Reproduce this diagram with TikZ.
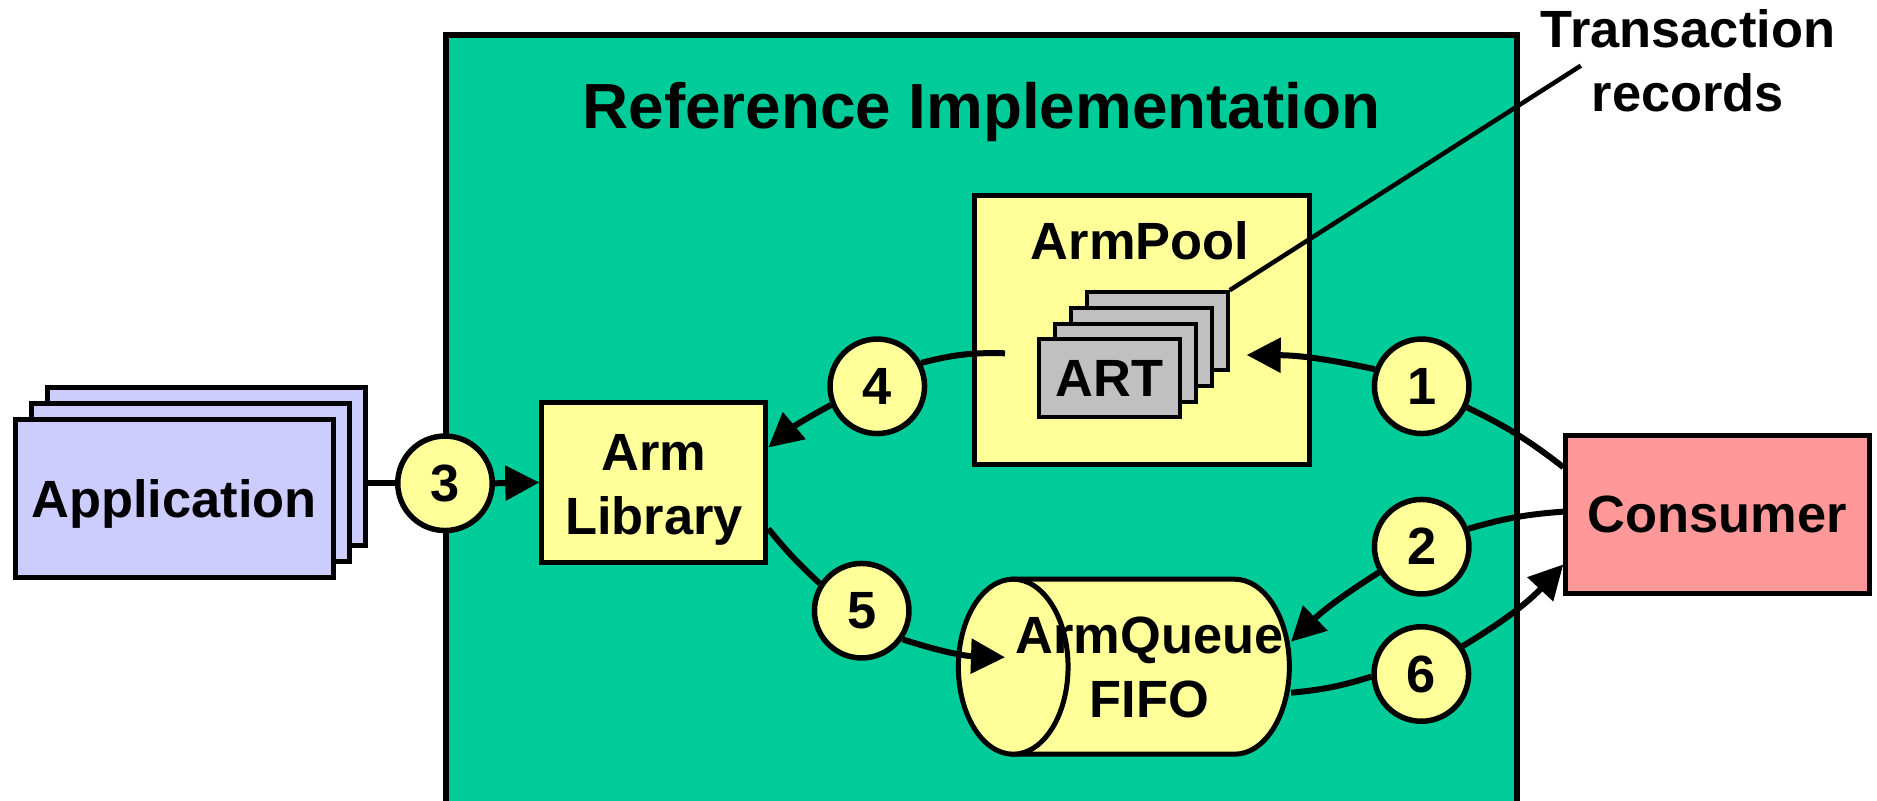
\documentclass[tikz,border=0pt]{standalone}
\usepackage{fontspec}
\setmainfont{Liberation Sans}
\usetikzlibrary{arrows.meta}
\definecolor{implgreen}{HTML}{00CC99}
\definecolor{paleyellow}{HTML}{FFFF99}
\definecolor{applav}{HTML}{CCCCFF}
\definecolor{conspink}{HTML}{FF9999}
\definecolor{artgray}{HTML}{C0C0C0}
\begin{document}
\begin{tikzpicture}[x=0.5pt,y=0.5pt,
  txt/.style={font=\fontsize{26.2pt}{32pt}\selectfont\bfseries, inner sep=0pt, align=center},
  boxed/.style={draw, line width=2.5pt, inner sep=0pt},
  appbox/.style={boxed, fill=applav, minimum width=159.1pt, minimum height=79.15pt},
  artbox/.style={draw, line width=2pt, inner sep=0pt, fill=artgray, minimum width=70.5pt, minimum height=39pt},
  num/.style={circle, draw, line width=2.75pt, fill=paleyellow, minimum size=47.25pt, txt},
  link/.style={line width=3pt},
  flow/.style={link, -{Triangle[length=17pt,width=17pt]}},
]
\useasboundingbox (0,0) rectangle (1877,-801);
\clip (0,0) rectangle (1877,-801);

% container
\node[draw, line width=3pt, fill=implgreen, inner sep=0pt,
      minimum width=535.5pt, minimum height=432.65pt] (impl) at (981.2,-467.35) {};
\node[txt, font=\fontsize{31.9pt}{38pt}\selectfont\bfseries, anchor=base] (title)
      at (981.5,-128.3) {Reference Implementation};

% pool with its transaction records
\node[boxed, fill=paleyellow, minimum width=167.5pt, minimum height=134.2pt] (pool) at (1141.7,-330) {};
\node[txt, anchor=base] (pooltitle) at (1140,-260) {ArmPool};
\node[artbox] (art4) at (1157.2,-331.2) {};
\node[artbox] (art3) at (1141.2,-346.9) {};
\node[artbox] (art2) at (1125.2,-362.6) {};
\node[artbox, txt, text depth=0pt] (art1) at (1109.2,-378.3) {ART};
\coordinate (poolin) at (1246.7,-355);
\coordinate (poolout) at (1005,-353.3);

% library
\node[boxed, fill=paleyellow, minimum width=112pt, minimum height=80pt] (lib) at (653.8,-482.5) {};
\node[txt] (liblabel) at (654,-489.6) {Arm\\Library};

% queue (cylinder)
\coordinate (qc) at (1013.2,-666.7);
\filldraw[fill=paleyellow, line width=2.5pt] (1013.2,-579.2) -- (1234.5,-579.2)
   arc[start angle=90, end angle=-90, x radius=27.425pt, y radius=43.75pt] -- (1013.2,-754.2) -- cycle;
\filldraw[fill=paleyellow, line width=2.5pt] (qc) ellipse[x radius=27.425pt, y radius=43.75pt];
\node[txt] (queuelabel) at (1149.6,-667.4) {ArmQueue\\FIFO};
\coordinate (q5) at (1005,-657.3);
\coordinate (q2) at (1291,-641.7);
\coordinate (q6) at (1291,-692.7);

% consumer
\node[boxed, fill=conspink, minimum width=151.7pt, minimum height=79.15pt, txt, text depth=0pt]
      (cons) at (1717.5,-514.35) {Consumer};

% applications
\node[appbox] (app3) at (206.1,-466.4) {};
\node[appbox] (app2) at (190.1,-482.4) {};
\node[appbox, txt, text depth=0pt] (app1) at (174.1,-498.4) {Application};

% numbered steps
\node[num] (c1) at (1421.7,-386.3) {1};
\node[num] (c2) at (1421.7,-546.7) {2};
\node[num] (c3) at (445,-483.3) {3};
\node[num] (c4) at (877.3,-386.3) {4};
\node[num] (c5) at (861.7,-610.7) {5};
\node[num] (c6) at (1421.3,-674) {6};

% flows
\draw[link] (cons.163) to[bend right=6] (c1.-25);
\draw[flow] (c1.160) to[bend right=6] (poolin);
\draw[link] (poolout) to[bend right=8] (c4.28);
\draw[flow] (c4.202) to[bend right=6] (lib.17);
\draw[link] (lib.-22) to[bend right=4] (c5.147);
\draw[flow] (c5.-35) to[bend right=8] (q5);
\draw[link] (cons.179) to[bend right=6] (c2.21);
\draw[flow] (c2.211) to[bend right=6] (q2);
\draw[link] (q6) to[bend right=6] (c6.183);
\draw[flow] (c6.34) to[bend right=8] (cons.198);
\draw[link] (app3.east |- c3.west) -- (c3.west);
\draw[flow] (c3.east) -- (lib.west);

% callout
\coordinate (leadend) at (1580.8,-65.7);
\draw[line width=2.25pt] (art4.north east) -- (leadend);
\node[txt] (trec) at (1688,-61.25) {Transaction\\records};
\end{tikzpicture}
\end{document}
